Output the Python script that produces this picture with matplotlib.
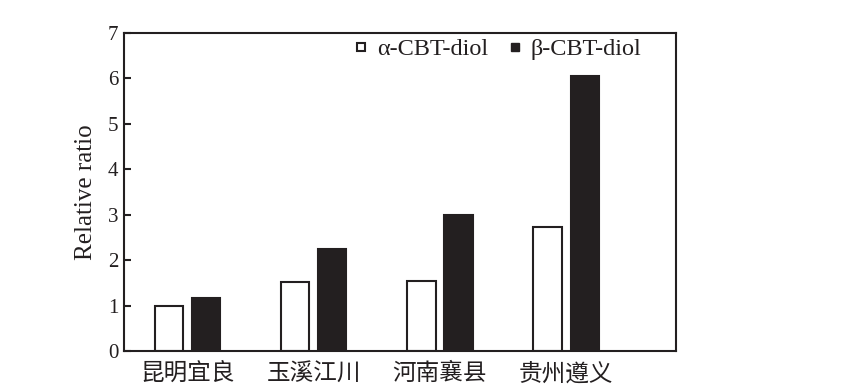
import matplotlib
matplotlib.use("Agg")
import matplotlib.pyplot as plt
import numpy as np
from matplotlib.lines import Line2D

categories = ["昆明宜良", "玉溪江川", "河南襄县", "贵州遵义"]
alpha_vals = [1.0, 1.52, 1.55, 2.73]
beta_vals = [1.17, 2.25, 3.0, 6.05]
series_labels = ["α-CBT-diol", "β-CBT-diol"]

plt.rcParams['font.family'] = ['Liberation Serif', 'Noto Sans CJK SC']
ink = '#231f20'

fig = plt.figure(figsize=(8.43, 3.88), dpi=100)
ax = fig.add_axes([0.147, 0.095, 0.655, 0.82])

x = np.arange(len(categories))
w = 0.225
off = 0.147
ax.bar(x - off, alpha_vals, w, facecolor='white', edgecolor=ink, linewidth=1.5)
ax.bar(x + off, beta_vals, w, facecolor=ink, edgecolor=ink, linewidth=1.5)

ax.set_xlim(-0.503, 3.87)
ax.set_ylim(0, 7)
ax.set_yticks(range(0, 8))
ax.tick_params(axis='y', direction='in', length=5, width=1.5, labelsize=15, colors=ink, pad=4)
ax.tick_params(axis='x', length=0, pad=8)
ax.set_xticks(x)
ax.set_xticklabels(categories, family=['Noto Sans CJK SC'], fontsize=17, color=ink)
for s in ax.spines.values():
    s.set_linewidth(1.5)
    s.set_color(ink)
ax.set_ylabel("Relative ratio", fontsize=18, color=ink, labelpad=8)

handles = [
    Line2D([], [], marker='s', linestyle='none', markersize=6, markerfacecolor='white', markeredgecolor=ink, markeredgewidth=1.5),
    Line2D([], [], marker='s', linestyle='none', markersize=6, markerfacecolor=ink, markeredgecolor=ink),
]
leg = ax.legend(handles, series_labels, loc='upper right', ncol=2, frameon=False, fontsize=17.5,
                handletextpad=0.16, columnspacing=0.6, borderaxespad=0.0, borderpad=0.2,
                handlelength=1.0, bbox_to_anchor=(0.946, 0.998))
for t in leg.get_texts():
    t.set_color(ink)

fig.savefig("out.png", dpi=100)
